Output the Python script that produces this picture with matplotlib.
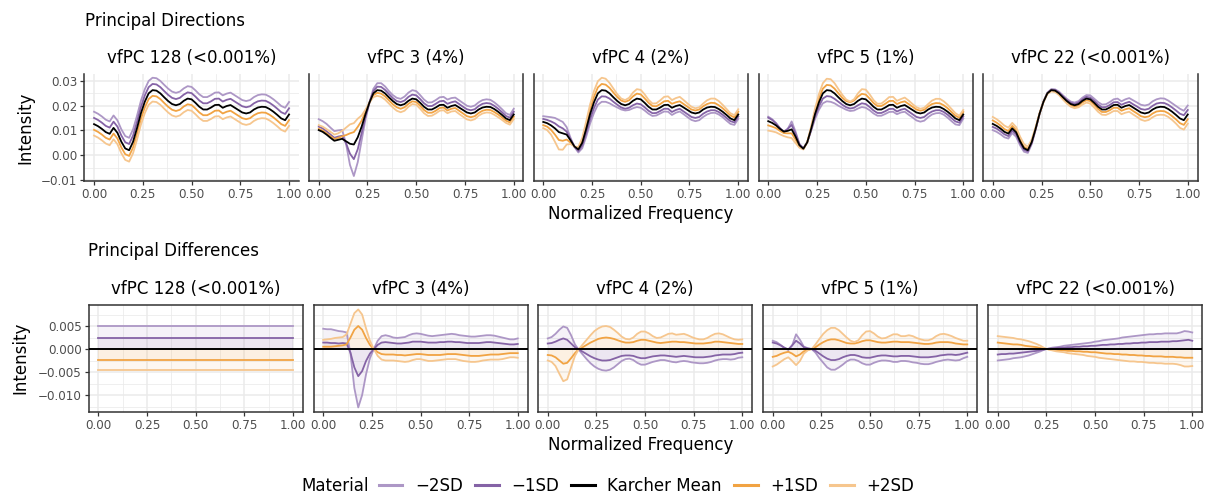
import numpy as np
import matplotlib
matplotlib.use("Agg")
import matplotlib.pyplot as plt
from matplotlib.lines import Line2D
from matplotlib.ticker import FixedLocator, NullFormatter

W, H = 1207, 495

# sampling grid of the curves (normalized frequency)
freq = np.linspace(0, 1, 51)

# Karcher mean (units of 1e-3).
# The first 14 samples (0 .. 0.26) differ from panel to panel in the
# "Principal Directions" row, the tail is shared.
mean_head = {
    "vfPC 128": [12.5, 11.7, 10.6, 9.3, 8.6, 11.0, 9.0, 5.4, 2.7, 2.0,
                 5.4, 10.8, 16.8, 21.5],
    "vfPC 3": [10.1, 9.4, 8.3, 7.0, 5.8, 6.2, 6.6, 5.6, 4.6, 4.3,
               7.2, 11.5, 16.6, 21.2],
    "vfPC 4": [13.4, 12.9, 12.0, 10.8, 9.3, 8.8, 8.3, 6.0, 3.5, 2.3,
               5.0, 10.5, 16.5, 21.3],
    "vfPC 5": [13.7, 13.0, 12.0, 10.6, 9.5, 9.8, 10.4, 7.5, 4.0, 2.6,
               5.2, 10.6, 16.6, 21.3],
    "vfPC 22": [12.6, 11.8, 10.7, 9.4, 8.7, 10.8, 9.2, 5.6, 2.8, 2.0,
                5.3, 10.7, 16.7, 21.5],
}
mean_tail = [24.9, 26.2, 26.0, 24.9, 23.3, 21.8,
             20.6, 20.1, 20.6, 21.9, 22.8, 22.5, 21.1, 19.5, 18.4, 18.4,
             19.2, 20.2, 20.3, 19.1, 19.8, 20.2, 19.2, 18.2, 17.2, 16.8,
             17.2, 18.4, 19.2, 19.5, 19.4, 18.6, 17.5, 16.2, 14.8, 14.1, 16.4]

pc_keys = ["vfPC 128", "vfPC 3", "vfPC 4", "vfPC 5", "vfPC 22"]
pc_names = ["vfPC 128 (<0.001%)", "vfPC 3 (4%)", "vfPC 4 (2%)",
            "vfPC 5 (1%)", "vfPC 22 (<0.001%)"]

# principal differences (curve - mean), units of 1e-3
# vfPC 128 is flat
pc128_level = {"m2": 5.0, "m1": 2.5, "p1": -2.3, "p2": -4.6}

pc3_m2 = [4.4, 4.3, 4.3, 4.1, 3.9, 3.8, 3.6, -1.0, -8.5, -12.7,
          -10.0, -5.5, -2.0, 0.0, 1.8, 2.8, 3.0, 2.8, 2.5, 2.4,
          2.5, 2.6, 3.0, 3.3, 3.4, 3.3, 3.1, 2.9, 2.8, 2.9,
          3.0, 3.1, 3.2, 3.3, 3.2, 3.0, 2.9, 2.8, 2.7, 2.7,
          2.8, 2.9, 3.0, 3.0, 2.9, 2.7, 2.5, 2.3, 2.1, 2.1, 2.3]
pc3_m1 = [1.4, 1.4, 1.3, 1.3, 1.2, 1.3, 1.2, -0.8, -4.0, -5.9,
          -4.8, -2.6, -1.0, 0.0, 0.9, 1.4, 1.5, 1.4, 1.3, 1.2,
          1.2, 1.3, 1.4, 1.6, 1.6, 1.6, 1.5, 1.4, 1.4, 1.4,
          1.5, 1.5, 1.6, 1.6, 1.5, 1.5, 1.4, 1.3, 1.3, 1.3,
          1.3, 1.4, 1.5, 1.5, 1.4, 1.3, 1.2, 1.1, 1.0, 1.0, 1.1]
pc3_p1 = [0.5, 0.5, 0.5, 0.6, 0.7, 0.8, 1.0, 2.5, 4.2, 5.0,
          4.2, 2.4, 0.9, 0.0, -0.7, -1.1, -1.2, -1.2, -1.2, -1.3,
          -1.3, -1.4, -1.3, -1.2, -1.1, -1.1, -1.2, -1.3, -1.3, -1.3,
          -1.3, -1.2, -1.1, -1.1, -1.1, -1.2, -1.3, -1.4, -1.5, -1.5,
          -1.5, -1.4, -1.3, -1.2, -1.2, -1.2, -1.1, -1.0, -0.9, -0.9, -0.9]
pc3_p2 = [2.0, 2.1, 2.2, 2.4, 2.5, 2.6, 3.2, 5.5, 7.8, 8.6,
          7.5, 4.5, 1.8, 0.0, -1.5, -2.3, -2.5, -2.5, -2.5, -2.6,
          -2.7, -2.8, -2.7, -2.4, -2.2, -2.2, -2.4, -2.6, -2.6, -2.5,
          -2.4, -2.3, -2.2, -2.2, -2.2, -2.4, -2.6, -2.7, -2.8, -2.8,
          -2.7, -2.5, -2.4, -2.3, -2.3, -2.3, -2.2, -2.0, -1.8, -1.8, -1.9]

pc4_m2 = [2.3, 2.6, 3.3, 4.2, 4.9, 4.6, 3.0, 1.0, -0.2, -1.2,
          -2.2, -3.1, -3.8, -4.3, -4.6, -4.7, -4.5, -4.0, -3.3, -2.6,
          -2.2, -2.1, -2.4, -3.0, -3.4, -3.4, -3.1, -2.8, -2.6, -2.4,
          -2.4, -2.6, -2.8, -2.9, -2.7, -2.6, -2.7, -2.9, -3.0, -3.1,
          -3.1, -3.0, -2.8, -2.5, -2.3, -2.2, -2.2, -2.3, -2.2, -1.9, -1.8]
pc4_m1 = [1.2, 1.3, 1.6, 2.0, 2.3, 2.0, 1.2, 0.4, -0.1, -0.6,
          -1.1, -1.6, -2.0, -2.3, -2.5, -2.5, -2.4, -2.1, -1.8, -1.5,
          -1.4, -1.4, -1.5, -1.8, -2.0, -2.0, -1.8, -1.6, -1.5, -1.4,
          -1.4, -1.5, -1.6, -1.7, -1.6, -1.5, -1.6, -1.7, -1.8, -1.8,
          -1.8, -1.7, -1.6, -1.4, -1.3, -1.2, -1.2, -1.2, -1.1, -0.9, -0.8]
pc4_p1 = [-1.3, -1.4, -1.8, -2.5, -3.2, -3.0, -2.0, -0.9, 0.0, 0.4,
          0.9, 1.4, 1.8, 2.2, 2.4, 2.5, 2.4, 2.2, 1.9, 1.6,
          1.4, 1.4, 1.5, 1.8, 2.0, 2.0, 1.8, 1.6, 1.4, 1.3,
          1.4, 1.5, 1.6, 1.6, 1.5, 1.5, 1.4, 1.3, 1.2, 1.2,
          1.2, 1.3, 1.4, 1.6, 1.6, 1.5, 1.4, 1.3, 1.2, 1.1, 1.1]
pc4_p2 = [-2.5, -2.8, -3.7, -5.4, -7.0, -6.6, -4.0, -1.5, 0.0, 1.0,
          2.0, 3.0, 3.9, 4.5, 4.9, 5.0, 4.8, 4.2, 3.5, 2.7,
          2.2, 2.1, 2.5, 3.3, 3.8, 3.8, 3.4, 2.8, 2.4, 2.5,
          2.9, 3.3, 3.4, 3.1, 3.2, 3.3, 3.0, 2.6, 2.3, 2.1,
          2.1, 2.4, 2.9, 3.3, 3.4, 3.2, 2.8, 2.4, 2.1, 2.0, 2.1]

pc5_m2 = [1.8, 1.5, 0.9, 0.2, -0.2, 0.8, 3.2, 2.0, 0.5, 0.2,
          0.0, -0.8, -2.0, -3.0, -4.0, -4.5, -4.5, -4.0, -3.4, -2.7,
          -2.3, -2.3, -2.6, -3.1, -3.4, -3.4, -3.0, -2.7, -2.5, -2.5,
          -2.6, -2.8, -2.8, -2.6, -2.6, -2.7, -2.9, -3.0, -3.2, -3.3,
          -3.3, -3.1, -2.8, -2.6, -2.4, -2.3, -2.4, -2.5, -2.4, -2.0, -1.7]
pc5_m1 = [1.4, 1.2, 0.8, 0.3, -0.1, 0.8, 1.8, 1.2, 0.4, 0.1,
          0.0, -0.4, -1.0, -1.6, -2.1, -2.4, -2.4, -2.2, -1.8, -1.5,
          -1.3, -1.3, -1.5, -1.8, -1.9, -1.9, -1.7, -1.5, -1.4, -1.4,
          -1.5, -1.6, -1.6, -1.5, -1.5, -1.5, -1.6, -1.7, -1.8, -1.8,
          -1.8, -1.7, -1.6, -1.4, -1.3, -1.2, -1.2, -1.3, -1.2, -1.0, -0.8]
pc5_p1 = [-1.7, -1.5, -1.1, -0.8, -0.6, -1.0, -1.6, -1.2, -0.5, -0.2,
          0.0, 0.4, 1.0, 1.5, 1.9, 2.1, 2.1, 1.9, 1.6, 1.3,
          1.2, 1.2, 1.4, 1.7, 1.9, 1.9, 1.7, 1.5, 1.4, 1.4,
          1.5, 1.6, 1.6, 1.5, 1.5, 1.5, 1.4, 1.3, 1.2, 1.1,
          1.1, 1.2, 1.4, 1.5, 1.5, 1.5, 1.4, 1.2, 1.1, 1.0, 1.0]
pc5_p2 = [-3.8, -3.4, -2.8, -2.2, -1.8, -2.6, -3.5, -2.6, -1.0, -0.3,
          0.0, 1.0, 2.2, 3.3, 4.1, 4.6, 4.6, 4.1, 3.3, 2.5,
          1.8, 1.5, 1.9, 3.0, 3.8, 3.9, 3.4, 2.7, 2.3, 2.4,
          2.8, 3.2, 3.2, 2.8, 2.8, 3.0, 2.8, 2.4, 2.1, 1.9,
          1.9, 2.2, 2.8, 3.2, 3.3, 3.1, 2.8, 2.4, 2.1, 1.8, 1.8]

pc22_m2 = [-2.5, -2.4, -2.3, -2.2, -2.0, -1.9, -1.8, -1.6, -1.4, -1.1,
           -0.8, -0.5, -0.1, 0.1, 0.3, 0.4, 0.5, 0.7, 0.8, 0.9,
           1.0, 1.1, 1.2, 1.3, 1.4, 1.6, 1.7, 1.9, 2.0, 2.1,
           2.2, 2.3, 2.5, 2.6, 2.7, 2.8, 2.9, 3.0, 3.1, 3.2,
           3.2, 3.3, 3.3, 3.4, 3.4, 3.4, 3.4, 3.6, 3.9, 3.8, 3.6]
pc22_m1 = [-1.2, -1.1, -1.1, -1.0, -1.0, -0.9, -0.8, -0.7, -0.6, -0.5,
           -0.4, -0.2, -0.1, 0.05, 0.1, 0.2, 0.3, 0.3, 0.4, 0.4,
           0.5, 0.5, 0.6, 0.6, 0.7, 0.7, 0.8, 0.9, 0.9, 1.0,
           1.0, 1.1, 1.1, 1.2, 1.2, 1.3, 1.3, 1.4, 1.4, 1.5,
           1.5, 1.5, 1.6, 1.6, 1.6, 1.7, 1.7, 1.8, 1.9, 2.0, 1.8]
pc22_p1 = [1.4, 1.3, 1.2, 1.1, 1.0, 1.0, 0.9, 0.7, 0.6, 0.5,
           0.4, 0.2, 0.1, -0.05, -0.1, -0.2, -0.3, -0.3, -0.4, -0.4,
           -0.5, -0.5, -0.6, -0.6, -0.7, -0.7, -0.8, -0.9, -1.0, -1.0,
           -1.1, -1.1, -1.2, -1.2, -1.3, -1.3, -1.4, -1.4, -1.5, -1.5,
           -1.6, -1.6, -1.6, -1.7, -1.7, -1.7, -1.8, -1.8, -1.9, -1.9, -1.9]
pc22_p2 = [2.8, 2.7, 2.6, 2.5, 2.4, 2.2, 2.1, 1.9, 1.7, 1.4,
           1.1, 0.7, 0.2, -0.1, -0.3, -0.5, -0.6, -0.7, -0.9, -1.0,
           -1.1, -1.2, -1.3, -1.5, -1.6, -1.7, -1.9, -2.0, -2.1, -2.2,
           -2.3, -2.4, -2.5, -2.6, -2.7, -2.7, -2.8, -2.8, -2.9, -3.0,
           -3.0, -3.1, -3.1, -3.2, -3.2, -3.2, -3.3, -3.5, -3.8, -3.8, -3.7]

levels = ["m2", "m1", "p1", "p2"]
level_labels = {"m2": "\u22122SD", "m1": "\u22121SD", "mean": "Karcher Mean",
                "p1": "+1SD", "p2": "+2SD"}
colors = {"m2": "#ad97c6", "m1": "#8563a6", "mean": "black",
          "p1": "#f1a343", "p2": "#f6c68e"}

diffs = [
    {k: np.full(len(freq), v) for k, v in pc128_level.items()},
    {"m2": pc3_m2, "m1": pc3_m1, "p1": pc3_p1, "p2": pc3_p2},
    {"m2": pc4_m2, "m1": pc4_m1, "p1": pc4_p1, "p2": pc4_p2},
    {"m2": pc5_m2, "m1": pc5_m1, "p1": pc5_p1, "p2": pc5_p2},
    {"m2": pc22_m2, "m1": pc22_m1, "p1": pc22_p1, "p2": pc22_p2},
]
diffs = [{k: np.asarray(v) * 1e-3 for k, v in d.items()} for d in diffs]
means = [np.asarray(mean_head[k] + mean_tail) * 1e-3 for k in pc_keys]

plt.rcParams["font.family"] = "DejaVu Sans"
GRID = "#ebebeb"
EDGE = "#333333"


def rect(left, top, width, height):
    return [left / W, 1 - (top + height) / H, width / W, height / H]


def style(ax, ylim, yticks, yminor, ylabels, first, spines):
    ax.set_xlim(-0.05, 1.05)
    ax.set_ylim(*ylim)
    ax.xaxis.set_major_locator(FixedLocator([0, 0.25, 0.5, 0.75, 1.0]))
    ax.xaxis.set_minor_locator(FixedLocator([0.125, 0.375, 0.625, 0.875]))
    ax.set_xticklabels(["0.00", "0.25", "0.50", "0.75", "1.00"])
    ax.yaxis.set_major_locator(FixedLocator(yticks))
    ax.yaxis.set_minor_locator(FixedLocator(yminor))
    ax.grid(True, which="major", color=GRID, lw=1.1, zorder=0)
    ax.grid(True, which="minor", color=GRID, lw=0.55, zorder=0)
    ax.set_axisbelow(True)
    ax.tick_params(which="minor", length=0)
    ax.tick_params(which="major", length=3.2, width=0.9, color=EDGE,
                   labelsize=8.6, labelcolor="#4d4d4d", pad=1.8)
    if first:
        ax.set_yticklabels(ylabels)
    else:
        ax.tick_params(axis="y", which="major", length=0)
        ax.yaxis.set_major_formatter(NullFormatter())
    for s in ax.spines:
        ax.spines[s].set_visible(s in spines)
        ax.spines[s].set_color(EDGE)
        ax.spines[s].set_linewidth(1.1)


fig = plt.figure(figsize=(W / 100, H / 100), dpi=100)

top_lefts = [84.3, 309, 533.5, 758.5, 983]
bot_lefts = [88.7, 313.5, 538, 763, 988]

for i, name in enumerate(pc_names):
    mean = means[i]
    # principal directions
    ax = fig.add_axes(rect(top_lefts[i], 74, 214.5, 107))
    for k in levels:
        ax.plot(freq, mean + diffs[i][k], color=colors[k], lw=1.3, zorder=2)
    ax.plot(freq, mean, color="black", lw=1.3, zorder=3)
    style(ax, (-0.0104, 0.0327), [-0.01, 0, 0.01, 0.02, 0.03],
          [-0.005, 0.005, 0.015, 0.025],
          ["\u22120.01", "0.00", "0.01", "0.02", "0.03"], i == 0,
          ("left", "bottom") if i == 0 else ("left", "bottom", "right"))
    ax.text(0.5, 1.15, name, transform=ax.transAxes, ha="center",
            va="center", fontsize=12)

    # principal differences
    ax = fig.add_axes(rect(bot_lefts[i], 305, 214, 106.7))
    for k in levels:
        fill = "#8563a6" if k.startswith("m") else "#f1a343"
        ax.fill_between(freq, 0, diffs[i][k], color=fill, alpha=0.08,
                        lw=0, zorder=1)
    for k in levels:
        ax.plot(freq, diffs[i][k], color=colors[k], lw=1.3, zorder=2)
    ax.axhline(0, color="black", lw=1.4, zorder=3)
    style(ax, (-0.01363, 0.00957), [-0.01, -0.005, 0, 0.005],
          [-0.0125, -0.0075, -0.0025, 0.0025, 0.0075],
          ["\u22120.010", "\u22120.005", "0.000", "0.005"], i == 0,
          ("left", "bottom", "right", "top"))
    ax.text(0.5, 1.15, name, transform=ax.transAxes, ha="center",
            va="center", fontsize=12)

fig.text(85 / W, 1 - 21 / H, "Principal Directions", ha="left",
         va="center", fontsize=12)
fig.text(88.5 / W, 1 - 251 / H, "Principal Differences", ha="left",
         va="center", fontsize=12)
fig.text(25 / W, 1 - 127.5 / H, "Intensity", rotation=90, ha="center",
         va="center", fontsize=12)
fig.text(20 / W, 1 - 358 / H, "Intensity", rotation=90, ha="center",
         va="center", fontsize=12)
fig.text(641 / W, 1 - 214 / H, "Normalized Frequency", ha="center",
         va="center", fontsize=12)
fig.text(641 / W, 1 - 445 / H, "Normalized Frequency", ha="center",
         va="center", fontsize=12)

# legend
order = ["m2", "m1", "mean", "p1", "p2"]
handles = [Line2D([], [], color=colors[k], lw=2.2) for k in order]
fig.text(301 / W, 1 - 486 / H, "Material", ha="left", va="center",
         fontsize=12)
fig.legend(handles, [level_labels[k] for k in order], ncol=5,
           loc="center left", bbox_to_anchor=(379 / W, 1 - 486 / H),
           frameon=False, fontsize=12, handlelength=1.4,
           handletextpad=0.75, columnspacing=0.75, borderpad=0,
           borderaxespad=0)

fig.savefig("out.png", dpi=100)
